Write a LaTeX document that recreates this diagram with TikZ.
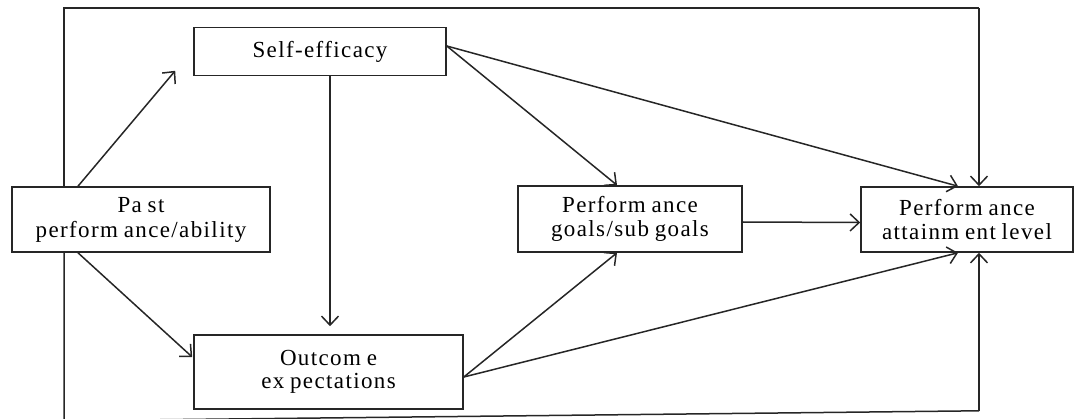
\documentclass[tikz,border=0pt]{standalone}
\usepackage{fontspec}
\setmainfont{Liberation Serif}[LetterSpace=6]
\usetikzlibrary{arrows.meta,calc}
\newcommand\diagfont{\fontsize{23}{23.5}\selectfont\spaceskip=0.25em\relax}
\begin{document}
\begin{tikzpicture}[x=1pt,y=-1pt,
  box/.style={draw=black!85,line width=1.6pt,rectangle,inner sep=0pt,align=center,
    font=\diagfont},
  conn/.style={draw=black!85,line width=1.5pt,-{Straight Barb[length=9pt,width=17pt,line width=1.5pt]}},
  link/.style={draw=black!85,line width=1.5pt}]
\useasboundingbox (0,0) rectangle (1075,419);
\node[box,minimum width=252pt,minimum height=48pt] (se) at (320,51.5) {Self-efficacy};
\node[box,minimum width=258pt,minimum height=65pt] (past) at (141,219.5) {Pa st\\[1.5pt]perform ance/ability};
\node[box,minimum width=269pt,minimum height=74pt] (oe) at (328.5,372) {Outcom e\\ex pectations};
\node[box,minimum width=224pt,minimum height=66pt] (goals) at (630,219) {Perform ance\\goals/sub goals};
\node[box,minimum width=212pt,minimum height=65pt] (att) at (967,219.5) {Perform ance\\attainm ent level};
% loops
\coordinate (tl) at ([shift={(-77,-178)}]past.north);
\coordinate (tr) at ([shift={(12,-178)}]att.north);
\draw[link] ([xshift=-77pt]past.north) -- (tl) -- (tr);
\draw[conn] (tr) -- ([xshift=12pt]att.north);
\coordinate (bl) at ([shift={(-77,168)}]past.south);
\coordinate (br) at ([shift={(12,158)}]att.south);
\draw[link] ([xshift=-77pt]past.south) -- (bl) -- (br);
\draw[conn] (br) -- ([xshift=12pt]att.south);
% connectors
\draw[conn] ([xshift=-63pt]past.north) -- ([shift={(-18,-5.5)}]se.south west);
\draw[conn] ([xshift=-63pt]past.south) -- ([shift={(-1,-15)}]oe.west);
\draw[conn] ([xshift=10pt]se.south) -- ([shift={(1.5,-8)}]oe.north);
\draw[conn] ([yshift=5.5pt]se.east) -- ([xshift=-13pt]goals.north);
\draw[conn] ([yshift=5.5pt]se.east) -- ([xshift=-9pt]att.north);
\draw[conn] ([yshift=-3pt]goals.east) -- ([yshift=-3pt]att.west);
\draw[conn] ([yshift=-5pt]oe.east) -- ([xshift=-13pt]goals.south);
\draw[conn] ([yshift=-5pt]oe.east) -- ([xshift=-9pt]att.south);
\end{tikzpicture}
\end{document}
